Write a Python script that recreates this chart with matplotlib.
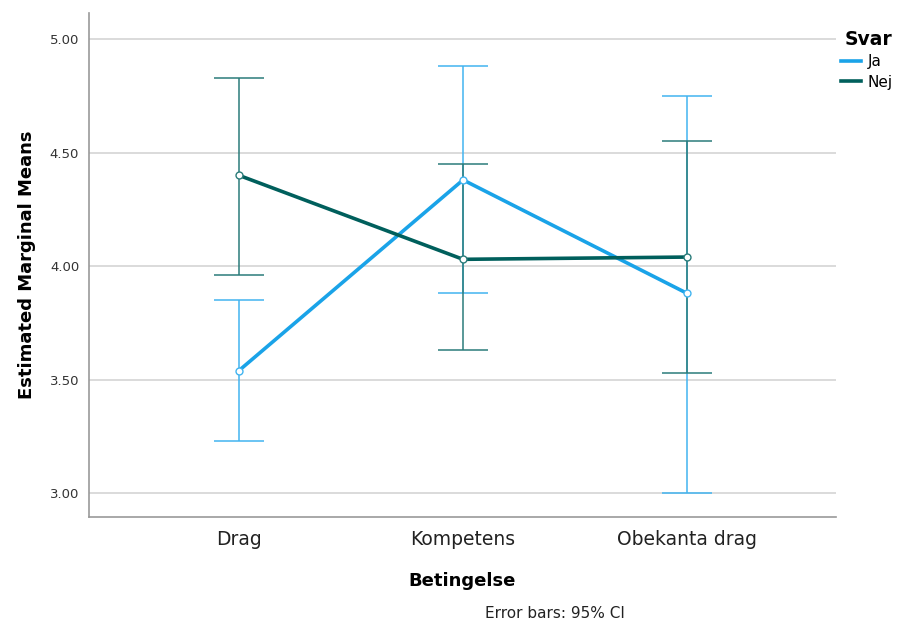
import numpy as np
import matplotlib
matplotlib.use('Agg')
import matplotlib.pyplot as plt
from matplotlib.lines import Line2D

# Categories and estimated marginal means with 95% CI
conditions = ["Drag", "Kompetens", "Obekanta drag"]

ja_mean = [3.54, 4.38, 3.88]
ja_lower = [3.23, 3.88, 3.00]
ja_upper = [3.85, 4.88, 4.75]

nej_mean = [4.40, 4.03, 4.04]
nej_lower = [3.96, 3.63, 3.53]
nej_upper = [4.83, 4.45, 4.55]

plt.rcParams['font.family'] = ['DejaVu Sans']

fig = plt.figure(figsize=(9.05, 6.26), dpi=100)
ax = fig.add_axes([0.0983, 0.174, 0.8255, 0.805])

x = np.arange(len(conditions))

series = [
    ("Ja", ja_mean, ja_lower, ja_upper, "#1aa3e8", "#42b4f0"),
    ("Nej", nej_mean, nej_lower, nej_upper, "#005f5c", "#2b7c7a"),
]

handles = []
for name, mean, lo, hi, col, ecol in series:
    mean = np.array(mean)
    err = [mean - np.array(lo), np.array(hi) - mean]
    ax.errorbar(x, mean, yerr=err, fmt='none', ecolor=ecol, elinewidth=1.1,
                capsize=18, capthick=1.1, zorder=2)
    ax.plot(x, mean, color=col, lw=2.6, marker='o', markersize=5,
            markerfacecolor='white', markeredgecolor=ecol, markeredgewidth=1.0,
            zorder=3)
    handles.append(Line2D([0], [0], color=col, lw=2.6, label=name))

ax.set_xlim(-0.67, 2.665)
ax.set_ylim(2.894, 5.115)
ax.set_yticks([3.0, 3.5, 4.0, 4.5, 5.0])
ax.set_yticklabels(["%.2f" % v for v in [3.0, 3.5, 4.0, 4.5, 5.0]], fontsize=9.5, color='#333333')
ax.set_xticks(x)
ax.set_xticklabels(conditions, fontsize=13.5, color='#222222')
ax.tick_params(axis='both', length=0, pad=7)
ax.tick_params(axis='x', pad=9)

ax.yaxis.grid(True, color='#d4d4d4', lw=1.2)
ax.set_axisbelow(True)
for s in ['top', 'right']:
    ax.spines[s].set_visible(False)
for s in ['left', 'bottom']:
    ax.spines[s].set_color('#999999')
    ax.spines[s].set_linewidth(1.2)

ax.set_ylabel("Estimated Marginal Means", fontsize=13, fontweight='bold', labelpad=10)
ax.set_xlabel("Betingelse", fontsize=13, fontweight='bold', labelpad=17)

fig.text(0.613, 0.013, "Error bars: 95% CI", fontsize=11, ha='center', color='#222222')

leg = ax.legend(handles=handles, title="Svar", loc='upper left', bbox_to_anchor=(0.995, 0.985),
                frameon=False, fontsize=11, handlelength=1.3, handletextpad=0.4,
                labelspacing=0.35, borderaxespad=0.2)
leg.get_title().set_fontweight('bold')
leg.get_title().set_fontsize(13.5)
leg._legend_box.align = 'right'
leg._legend_box.sep = 4

fig.savefig("out.png", dpi=100)
